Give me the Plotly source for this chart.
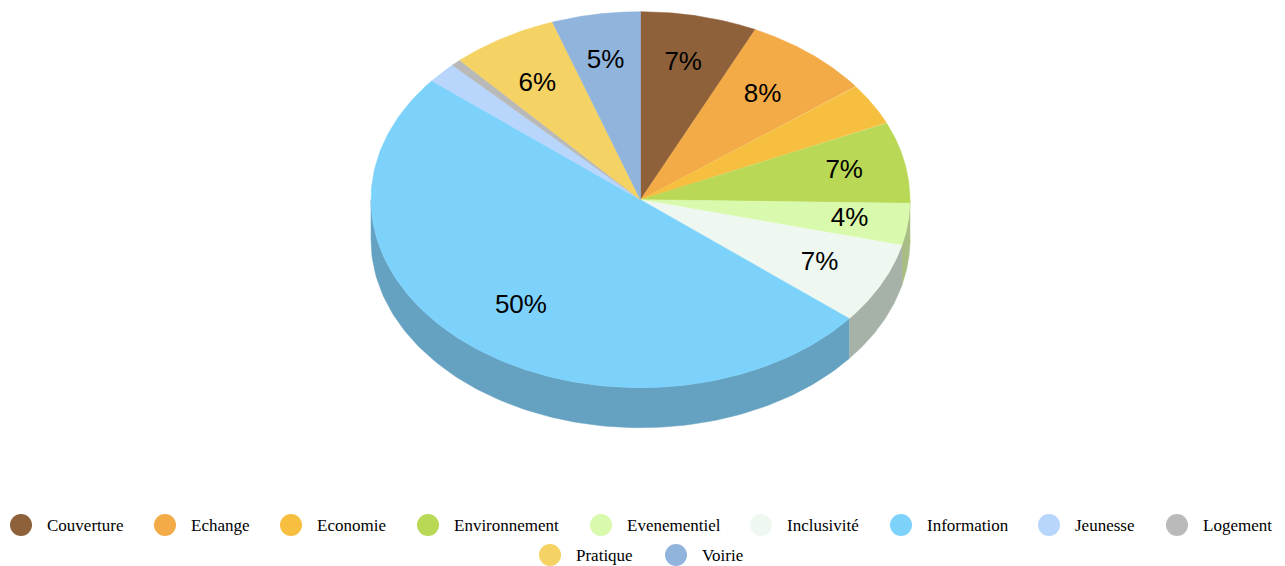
import numpy as np
import plotly.graph_objects as go

# --- data ---
categories = ["Couverture", "Echange", "Economie", "Environnement", "Evenementiel",
              "Inclusivité", "Information", "Jeunesse", "Logement", "Pratique", "Voirie"]
values = [7.0, 7.7, 3.6, 7.0, 3.6, 7.0, 50.0, 1.8, 0.6, 6.4, 5.3]
slice_labels = ["7%", "8%", "", "7%", "4%", "7%", "50%", "", "", "6%", "5%"]

# --- styles ---
colors = ["#8f613b", "#f2ab46", "#f6bf3f", "#b9d855", "#d9f9ad", "#eff8f0",
          "#7dd2fb", "#b8d6fb", "#b9b9b9", "#f4d264", "#91b4dc"]
wall_colors = ["#6e4a2d", "#ba8336", "#bd9330", "#a0b85c", "#a8bd85", "#a6b2a8",
               "#65a1c1", "#8da5c1", "#8e8e8e", "#bca14d", "#7089a9"]
CX, CY, RX, RY, DEPTH = 640.5, 199.7, 269.5, 188.0, 40.0
LABEL_R = 0.76
W, H = 1285, 566

# label placement nudges, in pixels
label_dx = [-2, -7, 0, 3, 6, -4, 10, 0, 0, 1, -1]
label_dy = [3, 7, 0, 0, 1, 0, -4, 0, 0, 8, 3]

# legend layout (pixel anchors)
legend_marker_x = [21, 165, 291, 428, 601, 761, 901, 1049, 1177, 550, 676]
legend_y = [525] * 9 + [555] * 2
LEGEND_GAP = 26
LEGEND_TEXT_DY = 1.5

fracs = np.array(values) / sum(values)
edges = np.concatenate([[0], np.cumsum(fracs)]) * 2 * np.pi


def ex(t):
    return CX + RX * np.sin(t)


def ey(t):
    return CY - RY * np.cos(t)


fig = go.Figure()

# side wall: the front half of the disc only
for i, name in enumerate(categories):
    a = max(edges[i], np.pi / 2)
    b = min(edges[i + 1], 3 * np.pi / 2)
    if b <= a:
        continue
    t = np.linspace(a, b, 120)
    x = np.concatenate([ex(t), ex(t[::-1])])
    y = np.concatenate([ey(t), ey(t[::-1]) + DEPTH])
    fig.add_trace(go.Scatter(x=x, y=y, mode="lines", fill="toself",
                             fillcolor=wall_colors[i],
                             line=dict(color=wall_colors[i], width=0.5),
                             hoverinfo="skip", showlegend=False))

# top face
for i, name in enumerate(categories):
    t = np.linspace(edges[i], edges[i + 1], 160)
    x = np.concatenate([[CX], ex(t), [CX]])
    y = np.concatenate([[CY], ey(t), [CY]])
    fig.add_trace(go.Scatter(x=x, y=y, mode="lines", fill="toself",
                             fillcolor=colors[i],
                             line=dict(color=colors[i], width=0.5),
                             name=name, text=f"{name}: {values[i]}%",
                             hoverinfo="text", showlegend=False))

# slice labels
mids = (edges[:-1] + edges[1:]) / 2
fig.add_trace(go.Scatter(x=CX + LABEL_R * RX * np.sin(mids) + np.array(label_dx),
                         y=CY - LABEL_R * RY * np.cos(mids) + np.array(label_dy),
                         mode="text", text=slice_labels, textposition="middle center",
                         textfont=dict(family="Liberation Sans", size=26, color="#000000"),
                         hoverinfo="skip", showlegend=False))

# legend
fig.add_trace(go.Scatter(x=legend_marker_x, y=legend_y, mode="markers",
                         marker=dict(size=22, color=colors, line=dict(width=0)),
                         hoverinfo="skip", showlegend=False))
fig.add_trace(go.Scatter(x=[v + LEGEND_GAP for v in legend_marker_x],
                         y=[v + LEGEND_TEXT_DY for v in legend_y],
                         mode="text", text=categories, textposition="middle right",
                         textfont=dict(family="Liberation Serif", size=17, color="#000000"),
                         hoverinfo="skip", showlegend=False))

fig.update_layout(
    width=W, height=H, autosize=False,
    margin=dict(l=0, r=0, t=0, b=0),
    paper_bgcolor="#ffffff", plot_bgcolor="#ffffff",
    xaxis=dict(range=[0, W], visible=False, fixedrange=True),
    yaxis=dict(range=[H, 0], visible=False, fixedrange=True),
    showlegend=False,
)
fig.write_html("out.html", config=dict(displayModeBar=False),
               post_script="document.body.style.margin='0';document.body.style.overflow='hidden';")
